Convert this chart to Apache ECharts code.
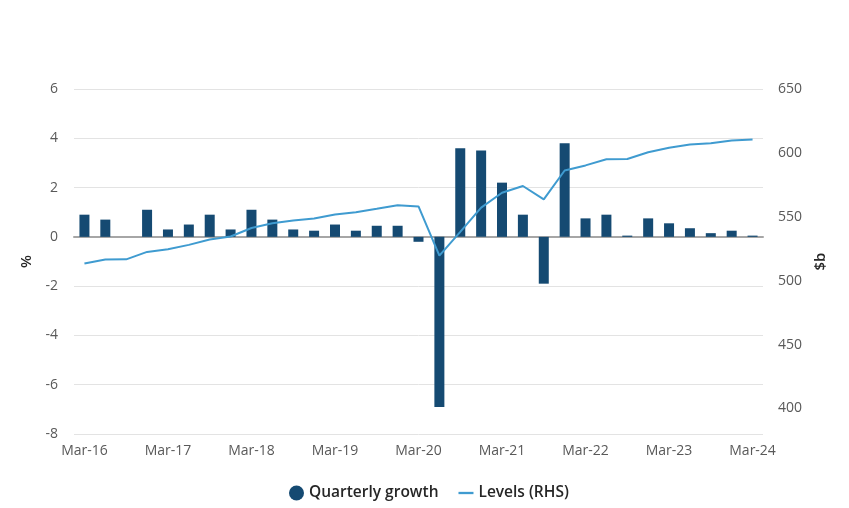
<!DOCTYPE html>
<html>
<head>
<meta charset="utf-8">
<script src="https://cdn.jsdelivr.net/npm/echarts@6/dist/echarts.min.js"></script>
<style>
html,body{margin:0;padding:0;background:#fff;}
#chart{width:849px;height:508px;}
</style>
</head>
<body>
<div id="chart"></div>
<script>
const categories = [
  'Mar-16','Jun-16','Sep-16','Dec-16',
  'Mar-17','Jun-17','Sep-17','Dec-17',
  'Mar-18','Jun-18','Sep-18','Dec-18',
  'Mar-19','Jun-19','Sep-19','Dec-19',
  'Mar-20','Jun-20','Sep-20','Dec-20',
  'Mar-21','Jun-21','Sep-21','Dec-21',
  'Mar-22','Jun-22','Sep-22','Dec-22',
  'Mar-23','Jun-23','Sep-23','Dec-23',
  'Mar-24'
];
const quarterlyGrowth = [
  0.9, 0.7, 0.0, 1.1,
  0.3, 0.5, 0.9, 0.3,
  1.1, 0.7, 0.3, 0.25,
  0.5, 0.25, 0.45, 0.45,
  -0.2, -6.9, 3.6, 3.5,
  2.2, 0.9, -1.9, 3.8,
  0.75, 0.9, 0.05, 0.75,
  0.55, 0.35, 0.15, 0.25,
  0.05
];
const levels = [
  513.5, 516.5, 516.7, 522.5,
  524.6, 528.0, 532.2, 534.6,
  541.2, 544.9, 547.1, 548.6,
  551.8, 553.6, 556.3, 559.1,
  558.1, 519.6, 538.2, 557.2,
  568.8, 574.1, 563.6, 586.2,
  590.2, 595.0, 595.2, 600.5,
  604.1, 606.6, 607.6, 609.7,
  610.4
];
const leftTicks = { min: -8, max: 6, interval: 2 };
const rightTicks = { min: 380, max: 650, labelStep: 50 };

const FONT = '"Open Sans", "Noto Sans", sans-serif';
const chart = echarts.init(document.getElementById('chart'), null, { renderer: 'canvas' });
chart.setOption({
  animation: false,
  backgroundColor: '#ffffff',
  textStyle: { fontFamily: FONT },
  grid: { left: 74, right: 86, top: 89, bottom: 74 },
  legend: {
    left: 284,
    top: 480,
    itemWidth: 15,
    itemHeight: 15,
    itemGap: 20,
    symbolKeepAspect: true,
    textStyle: { fontFamily: FONT, fontSize: 15.5, fontWeight: 600, color: '#262626' },
    data: [
      { name: 'Quarterly growth', icon: 'circle' },
      { name: 'Levels (RHS)', icon: 'path://M0,0 L13,0 L13,2 L0,2 Z' }
    ]
  },
  xAxis: [
    {
      type: 'category',
      data: categories,
      position: 'bottom',
      axisLine: { show: false, onZero: false },
      axisTick: { show: false },
      axisLabel: {
        interval: 3,
        margin: 10,
        color: '#595959',
        fontSize: 14,
        fontFamily: FONT
      },
      splitLine: { show: false }
    },
    {
      type: 'category',
      data: categories,
      position: 'bottom',
      axisLine: { show: true, onZero: true, onZeroAxisIndex: 0, lineStyle: { color: '#a6a6a6', width: 2 } },
      axisTick: { show: false },
      axisLabel: { show: false },
      splitLine: { show: false }
    }
  ],
  yAxis: [
    {
      type: 'value',
      min: leftTicks.min,
      max: leftTicks.max,
      interval: leftTicks.interval,
      position: 'left',
      name: '%',
      nameLocation: 'middle',
      nameGap: 40,
      nameRotate: 90,
      nameTextStyle: { color: '#262626', fontSize: 15, fontWeight: 600, fontFamily: FONT },
      axisLine: { show: false },
      axisTick: { show: false },
      axisLabel: { color: '#595959', fontSize: 14, margin: 16, fontFamily: FONT },
      splitLine: { show: true, lineStyle: { color: '#e3e3e3', width: 1 } }
    },
    {
      type: 'value',
      min: rightTicks.min,
      max: rightTicks.max,
      interval: 10,
      position: 'right',
      name: '$b',
      nameLocation: 'middle',
      nameGap: 47,
      nameRotate: 90,
      nameTextStyle: { color: '#262626', fontSize: 15, fontWeight: 600, fontFamily: FONT },
      axisLine: { show: false },
      axisTick: { show: false },
      axisLabel: {
        color: '#595959', fontSize: 14, margin: 15, fontFamily: FONT,
        formatter: function (v) { return (Math.round(v) % rightTicks.labelStep === 0) ? String(Math.round(v)) : ''; }
      },
      splitLine: { show: false }
    }
  ],
  series: [
    {
      name: 'Quarterly growth',
      type: 'bar',
      xAxisIndex: 0,
      yAxisIndex: 0,
      data: quarterlyGrowth,
      barWidth: 10,
      itemStyle: { color: '#154a72' },
      z: 3
    },
    {
      name: 'Levels (RHS)',
      type: 'line',
      xAxisIndex: 0,
      yAxisIndex: 1,
      data: levels,
      symbol: 'none',
      showSymbol: false,
      lineStyle: { color: '#3f9bd0', width: 2 },
      itemStyle: { color: '#3f9bd0' },
      z: 4
    }
  ]
});
</script>
</body>
</html>
